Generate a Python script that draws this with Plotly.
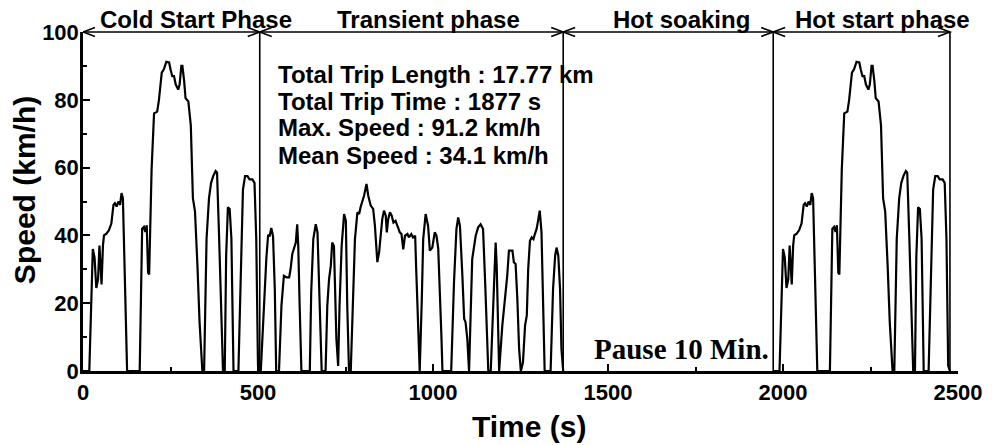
import plotly.graph_objects as go

# FTP-75 driving cycle: cold start phase (0-505 s); the hot start phase repeats it
cold_time = [0, 18, 28, 33, 38, 43, 47, 51, 53, 57,
             60, 67, 74, 81, 87, 91, 96, 101, 106, 110,
             114, 126, 162, 169, 174, 178, 182, 186, 189, 196,
             203, 212, 217, 225, 231, 238, 246, 250, 255, 260,
             265, 272, 276, 281, 284, 289, 293, 301, 308, 314,
             320, 327, 333, 341, 346, 353, 360, 366, 372, 379,
             383, 389, 396, 400, 405, 409, 414, 419, 424, 430,
             444, 450, 457, 463, 470, 476, 484, 490, 495, 500,
             505]
cold_speed = [0, 0, 36, 33.5, 24.5, 27, 37, 29, 25.5, 37,
              40, 40.5, 41.5, 43.5, 49, 49.5, 48.5, 50, 49, 52.5,
              51, 0, 0, 42, 42.5, 41, 43, 29, 28.5, 59.5,
              76, 76.5, 80, 88, 89, 91.2, 91, 89, 87, 87,
              84.5, 83, 84.5, 90, 90, 85.5, 80.5, 79.5, 72.5, 51,
              47, 31, 14.5, 0, 0, 39, 51, 55.5, 57.5, 59,
              58.5, 39, 9.5, 0, 0, 34, 48.3, 47.8, 39, 0,
              0, 29, 53.5, 57.5, 57.5, 56.5, 56.5, 55.5, 39, 1.5,
              0]

# Transient phase (505-1372 s)
transient_time = [505, 508, 517, 524, 529, 533, 538, 543, 548, 552,
                  560, 567, 574, 582, 589, 593, 598, 603, 608, 612,
                  615, 619, 624, 648, 652, 658, 665, 670, 674, 679,
                  682, 693, 698, 703, 708, 712, 717, 724, 729, 733,
                  739, 746, 751, 755, 760, 765, 770, 777, 784, 789,
                  793, 798, 803, 810, 815, 822, 829, 834, 841, 846,
                  851, 855, 860, 865, 868, 872, 877, 882, 887, 893,
                  900, 905, 910, 915, 920, 927, 931, 938, 943, 949,
                  952, 957, 962, 968, 972, 979, 986, 991, 998, 1005,
                  1010, 1015, 1019, 1024, 1027, 1052, 1060, 1067, 1072, 1077,
                  1084, 1089, 1093, 1098, 1103, 1108, 1112, 1122, 1129, 1136,
                  1143, 1149, 1155, 1158, 1165, 1172, 1179, 1182, 1186, 1189,
                  1198, 1206, 1212, 1217, 1227, 1231, 1236, 1241, 1246, 1251,
                  1257, 1263, 1268, 1272, 1277, 1282, 1287, 1291, 1296, 1301,
                  1305, 1310, 1314, 1319, 1336, 1343, 1349, 1353, 1358, 1363,
                  1367, 1370, 1372]
transient_speed = [0, 0, 19.3, 33.5, 40.2, 39.7, 42.2, 39.7, 24, 0,
                   0, 19.3, 28.1, 27.6, 27.6, 30, 34.5, 35.9, 37.9, 43.3,
                   36.9, 19.3, 0, 0, 23.2, 38.9, 43.3, 40.9, 27.1, 9.4,
                   0, 0, 19.3, 27.1, 31, 37.9, 36.9, 9.4, 1.5, 19.3,
                   36.9, 46.3, 44.3, 19.3, 0, 0, 19.3, 38.9, 46.8, 46.3,
                   48.3, 49.8, 51.7, 55.2, 51.7, 48.8, 47.8, 42.9, 32.1, 35,
                   41.9, 44.8, 47.3, 45.8, 40.9, 44.8, 46.8, 45.8, 43.8, 44.3,
                   42.4, 40.9, 40.4, 35.9, 39.9, 40.4, 39.4, 40.4, 39.4, 39.9,
                   30.1, 11.4, 0, 21.2, 38.9, 46.3, 42.8, 35.5, 36.4, 40.9,
                   39.9, 36, 26.2, 10.4, 0, 0, 26.2, 41.9, 45.3, 42.8,
                   28, 15.4, 14.4, 9.5, 0, 19.2, 33, 39.9, 42.4, 43.3,
                   41.9, 26.2, 8.5, 0, 0, 21.2, 37.9, 31.1, 6.5, 0,
                   13.4, 21.2, 28, 35.5, 35.5, 32.1, 31.6, 21.2, 6.5, 0,
                   2.5, 13.4, 16.4, 30.1, 38.4, 39.4, 38.9, 40.4, 41.9, 44.8,
                   47.3, 40.9, 21.2, 0, 0, 24.2, 34, 36.4, 34, 24.2,
                   6.5, 0, 0]

hot_start_begin = 1972  # after the 10 min hot soak

phase_bounds = [0, 505, 1372, 1972, 2477]
phase_names = ["Cold Start Phase", "Transient phase", "Hot soaking", "Hot start phase"]
phase_label_x = [323, 986, 1709, 2283]

stats_lines = ["Total Trip Length : 17.77 km",
               "Total Trip Time : 1877 s",
               "Max. Speed : 91.2 km/h",
               "Mean Speed : 34.1 km/h"]
stats_y = [87.6, 79.6, 71.7, 63.7]

x_ticks = [0, 500, 1000, 1500, 2000, 2500]
y_ticks = [0, 20, 40, 60, 80, 100]

SANS = "Arial, Liberation Sans, sans-serif"
SERIF = "Times New Roman, Liberation Serif, serif"

W, H = 994, 445
M_L, M_R, M_T, M_B = 83, 34, 32, 74
plot_w = W - M_L - M_R
plot_h = H - M_T - M_B
x_span = 2500.0

xs = cold_time + transient_time + [None] + [t + hot_start_begin for t in cold_time]
ys = cold_speed + transient_speed + [None] + cold_speed

fig = go.Figure()
fig.add_trace(go.Scatter(x=xs, y=ys, mode="lines",
                         line=dict(color="black", width=2.2),
                         connectgaps=False, showlegend=False,
                         hoverinfo="skip"))

shapes = []
# phase boundaries
for b in phase_bounds[1:]:
    shapes.append(dict(type="line", xref="x", yref="y", x0=b, x1=b, y0=0, y1=100,
                       line=dict(color="black", width=1.6)))

# double-headed arrows spanning each phase
head_len = 12 * x_span / plot_w
head_half = 4.5 / plot_h
for a, b in zip(phase_bounds[:-1], phase_bounds[1:]):
    shapes.append(dict(type="line", xref="x", yref="paper", x0=a, x1=b, y0=1, y1=1,
                       line=dict(color="black", width=1.4)))
    shapes.append(dict(type="path", xref="x", yref="paper",
                       path=f"M {a + head_len},{1 + head_half} L {a},1 L {a + head_len},{1 - head_half}",
                       line=dict(color="black", width=1.6)))
    shapes.append(dict(type="path", xref="x", yref="paper",
                       path=f"M {b - head_len},{1 + head_half} L {b},1 L {b - head_len},{1 - head_half}",
                       line=dict(color="black", width=1.6)))

annotations = []
for name, lx in zip(phase_names, phase_label_x):
    annotations.append(dict(text=f"<b>{name}</b>", x=lx, y=1 + 13 / plot_h,
                            xref="x", yref="paper", xanchor="center", yanchor="middle",
                            showarrow=False, font=dict(family=SANS, size=24, color="black")))

for line, yv in zip(stats_lines, stats_y):
    annotations.append(dict(text=f"<b>{line}</b>", x=551, y=yv, xref="x", yref="y",
                            xanchor="left", yanchor="middle", showarrow=False,
                            font=dict(family=SANS, size=24, color="black")))

annotations.append(dict(text="<b>Pause 10 Min.</b>", x=1454, y=6.4, xref="x", yref="y",
                        xanchor="left", yanchor="middle", showarrow=False,
                        font=dict(family=SERIF, size=29, color="black")))

# axis titles
annotations.append(dict(text="<b>Time (s)</b>", x=(530 - M_L) / plot_w, y=-(426 - (H - M_B)) / plot_h,
                        xref="paper", yref="paper", xanchor="center", yanchor="middle",
                        showarrow=False, font=dict(family=SANS, size=30, color="black")))
annotations.append(dict(text="<b>Speed (km/h)</b>", x=-(M_L - 24) / plot_w, y=1 - (190 - M_T) / plot_h,
                        xref="paper", yref="paper", xanchor="center", yanchor="middle",
                        textangle=-90, showarrow=False,
                        font=dict(family=SANS, size=30, color="black")))

tick_font = dict(family=SANS, size=22, color="black")

fig.update_layout(
    width=W, height=H,
    margin=dict(l=M_L, r=M_R, t=M_T, b=M_B, pad=0),
    paper_bgcolor="white", plot_bgcolor="white",
    shapes=shapes, annotations=annotations,
    xaxis=dict(range=[0, 2500], tickmode="array", tickvals=x_ticks,
               ticktext=[f"<b>{v}</b>" for v in x_ticks],
               ticks="inside", ticklen=7, tickwidth=2, tickcolor="black",
               showline=True, linewidth=2.5, linecolor="black",
               showgrid=False, zeroline=False, tickfont=tick_font,
               ticklabelstandoff=0,
               minor=dict(tickmode="linear", tick0=0, dtick=250, ticks="inside",
                          ticklen=4, tickwidth=2, tickcolor="black", showgrid=False)),
    yaxis=dict(range=[0, 100], tickmode="array", tickvals=y_ticks,
               ticktext=[f"<b>{v}</b>" for v in y_ticks],
               ticks="inside", ticklen=7, tickwidth=2, tickcolor="black",
               showline=True, linewidth=2.5, linecolor="black",
               showgrid=False, zeroline=False, tickfont=tick_font,
               ticklabelstandoff=-3,
               minor=dict(tickmode="linear", tick0=0, dtick=10, ticks="inside",
                          ticklen=4, tickwidth=2, tickcolor="black", showgrid=False)),
)

fig.write_html("out.html")
